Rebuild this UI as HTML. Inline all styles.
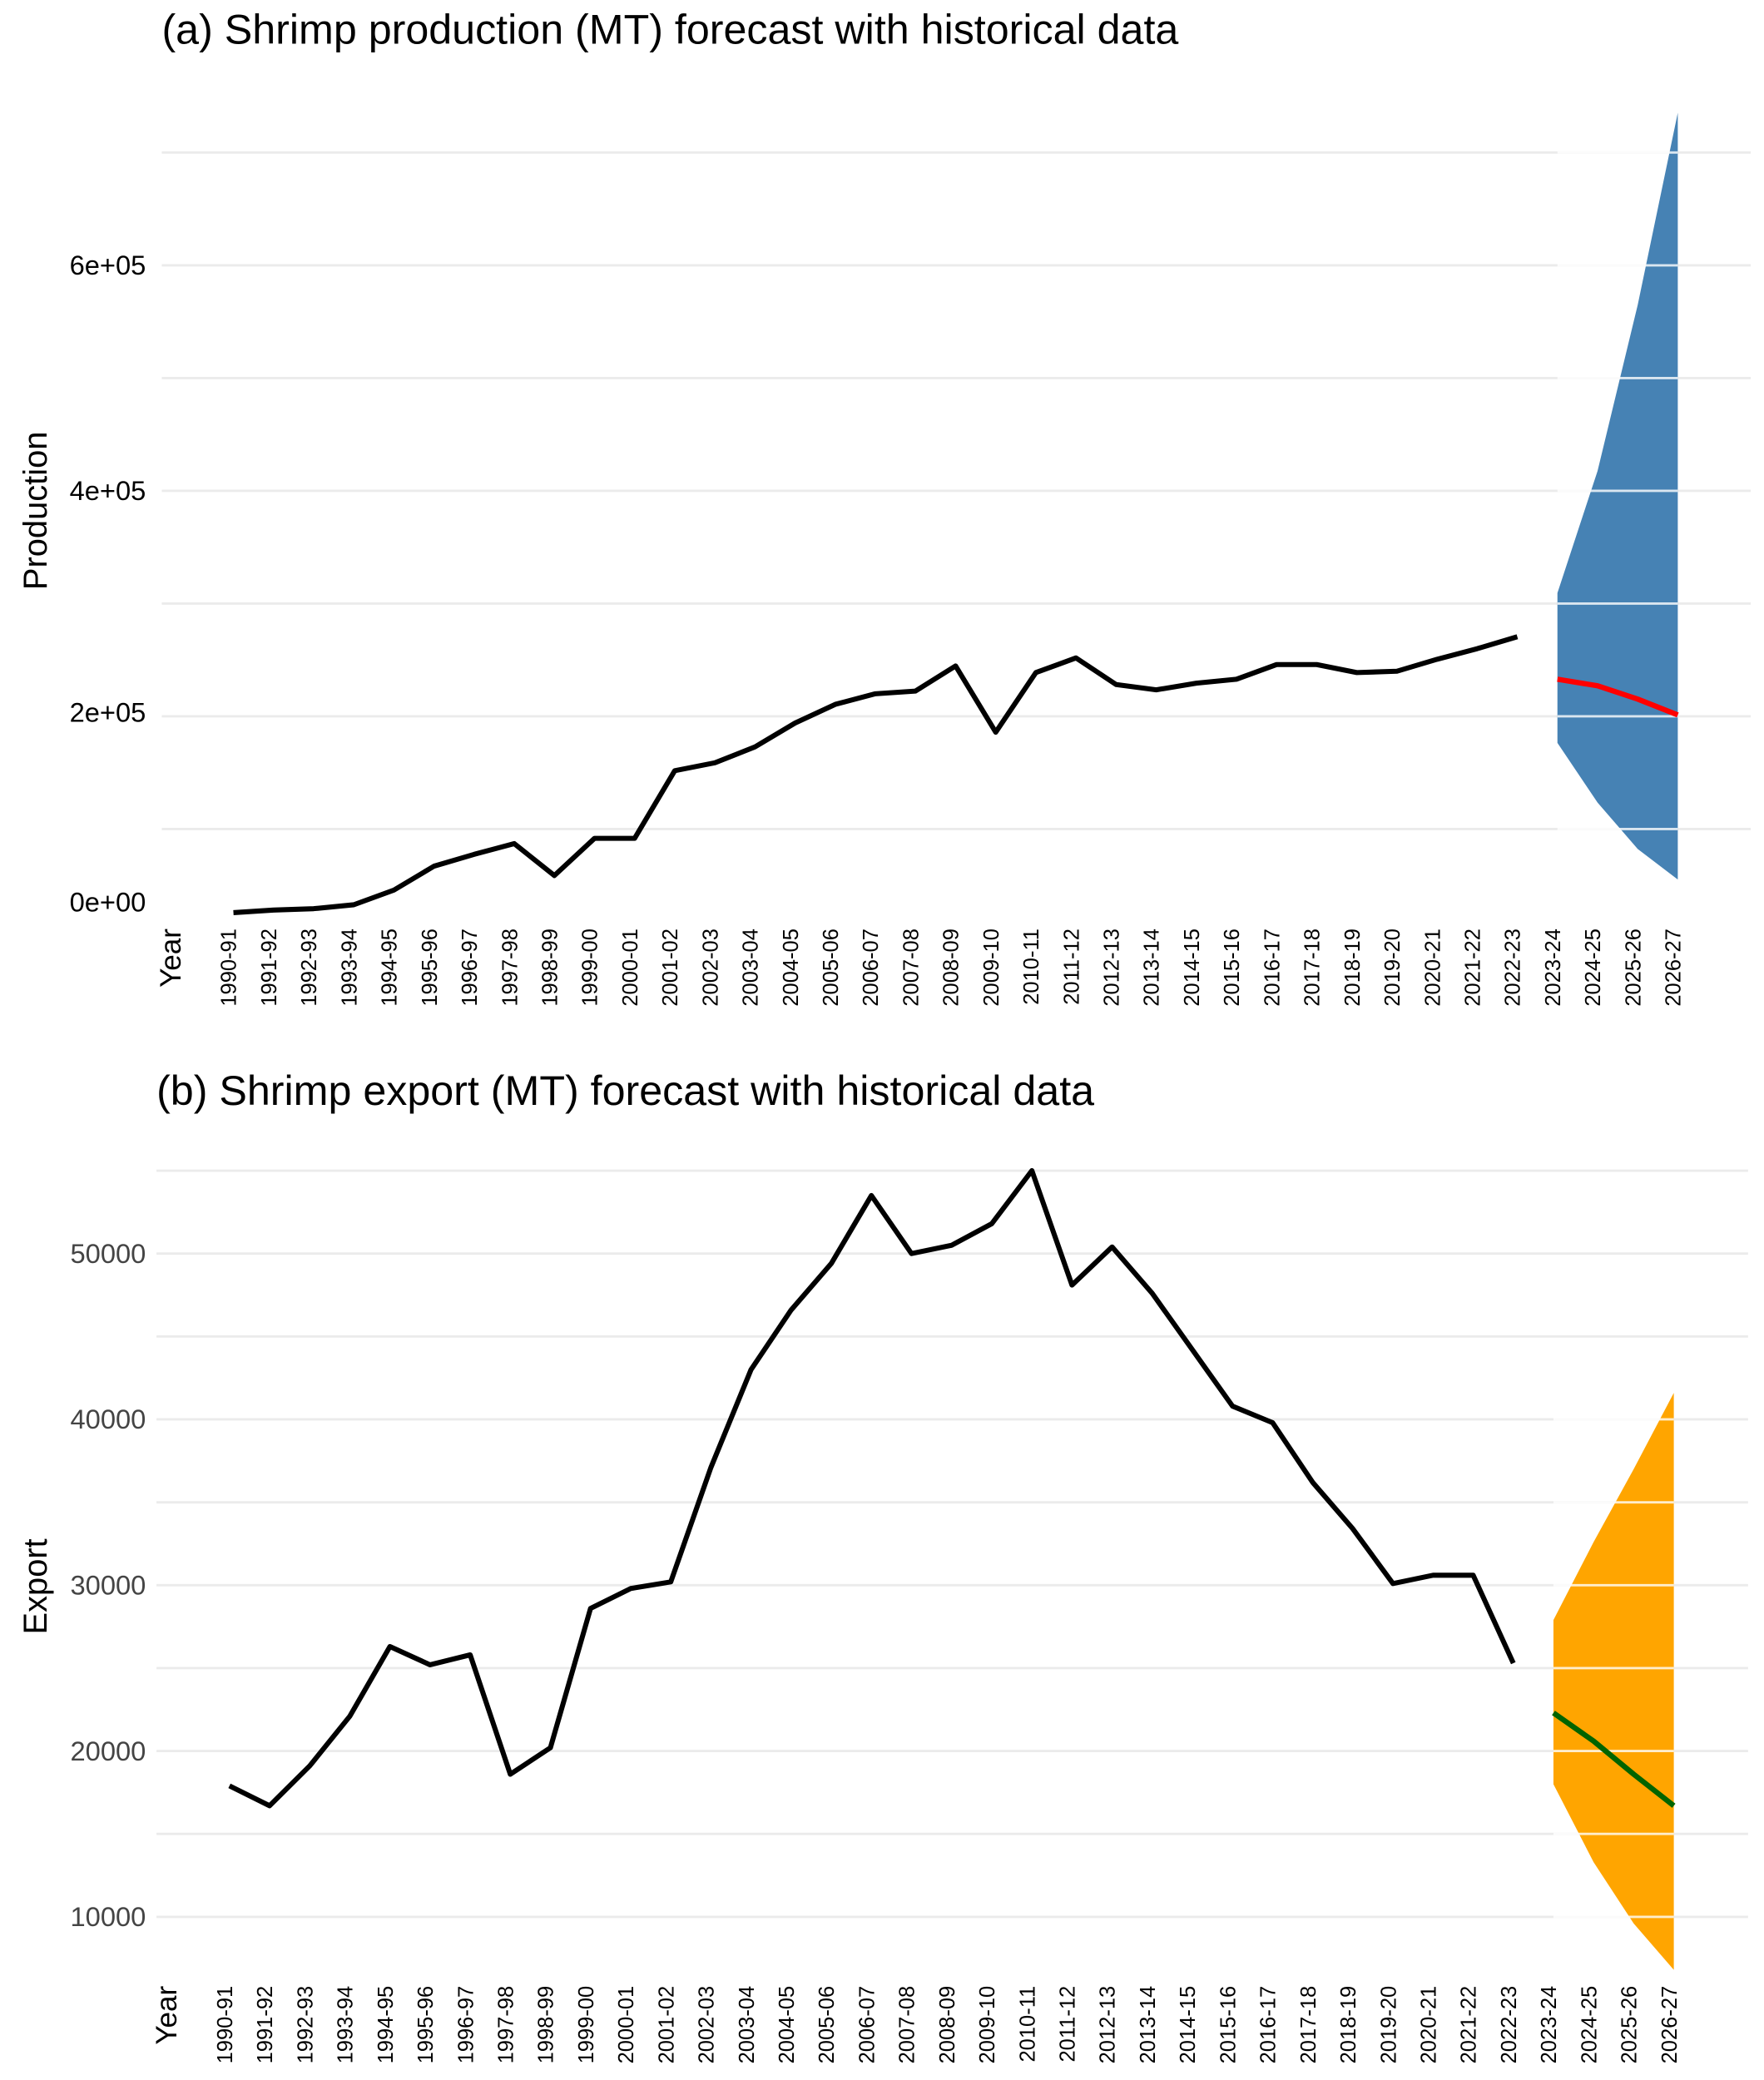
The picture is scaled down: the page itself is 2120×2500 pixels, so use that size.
<!DOCTYPE html>
<html><head><meta charset="utf-8"><style>
html,body{margin:0;padding:0;background:#fff;}
svg{display:block;font-family:"Liberation Sans",sans-serif;}
</style></head><body>
<svg id="chart" width="2120" height="2500" viewBox="0 0 1330 1568" preserveAspectRatio="none" xmlns="http://www.w3.org/2000/svg"></svg>
<script>
const years = ["1990-91","1991-92","1992-93","1993-94","1994-95","1995-96","1996-97","1997-98","1998-99","1999-00","2000-01","2001-02","2002-03","2003-04","2004-05","2005-06","2006-07","2007-08","2008-09","2009-10","2010-11","2011-12","2012-13","2013-14","2014-15","2015-16","2016-17","2017-18","2018-19","2019-20","2020-21","2021-22","2022-23","2023-24","2024-25","2025-26","2026-27"];
const prodHist = [25900,28200,29400,32900,45900,67100,77600,87100,58800,91800,91800,151800,158800,172900,194100,210600,220000,222400,244700,185900,238800,251800,228200,223500,229400,232900,245900,245900,238800,240000,250600,260000,270600];
const prodMean = [232900,227100,215300,201200];
const prodLower = [176500,123500,82400,55300];
const prodUpper = [309400,417600,564700,735300];
const prodTicks = [0,200000,400000,600000];
const prodTickLabels = ["0e+00","2e+05","4e+05","6e+05"];
const expHist = [17900,16700,19100,22100,26300,25200,25800,18600,20200,28600,29800,30200,37100,43000,46600,49400,53500,50000,50500,51800,55000,48100,50400,47600,44200,40800,39800,36200,33400,30100,30600,30600,25300];
const expMean = [22300,20600,18600,16700];
const expLower = [18000,13300,9600,6800];
const expUpper = [27900,32600,37000,41600];
const expTicks = [10000,20000,30000,40000,50000];
const expTickLabels = ["10000","20000","30000","40000","50000"];

const svg = document.getElementById('chart');
const NS = "http://www.w3.org/2000/svg";
function mk(tag, attrs, parent){const e=document.createElementNS(NS,tag);for(const k in attrs)e.setAttribute(k,attrs[k]);(parent||svg).appendChild(e);return e;}

function panel(cfg){
  const g = mk('g',{});
  
  
  const x = i => cfg.x0 + cfg.dx*i;
  const y = v => cfg.zeroY - v*cfg.scale;
  for(let v=cfg.gridStart; v<=cfg.gridEnd; v+=cfg.gridStep){
    const l = mk('line',{x1:cfg.gx0,x2:cfg.gx1,y1:y(v),y2:y(v),stroke:'#ebebeb','stroke-width':1.8},g);
    
    
  }
  const n = cfg.hist.length;
  let pts = cfg.upper.map((v,i)=>x(n+i)+','+y(v));
  pts = pts.concat(cfg.lower.map((v,i)=>x(n+i)+','+y(v)).reverse());
  const band = mk('polygon',{points:pts.join(' '),fill:cfg.bandColor},g);
  
  
  for(let v=cfg.gridStart; v<=cfg.gridEnd; v+=cfg.gridStep){
    const lo = Math.min(...cfg.lower), hi = Math.max(...cfg.upper);
    if(v>lo && v<hi){
      const l = mk('line',{x1:x(n),x2:x(n+3),y1:y(v),y2:y(v),stroke:'#fff','stroke-width':1.8,'stroke-opacity':0.8},g);
      
      
    }
  }
  const hl = mk('polyline',{points:cfg.hist.map((v,i)=>x(i)+','+y(v)).join(' '),fill:'none',stroke:'#000','stroke-width':3.8,'stroke-linejoin':'round'},g);
  
  
  const ml = mk('polyline',{points:cfg.mean.map((v,i)=>x(n+i)+','+y(v)).join(' '),fill:'none',stroke:cfg.meanColor,'stroke-width':4,'stroke-linejoin':'round'},g);
  
  
  cfg.ticks.forEach((v,i)=>{
    const t = mk('text',{x:110,y:y(v)+(cfg.tickShift?cfg.tickShift[i]:0)+7,'text-anchor':'end','font-size':20.5,fill:cfg.tickColor},g);
    t.textContent = cfg.tickLabels[i];
    
    
  });
  years.forEach((yr,i)=>{
    const t = mk('text',{transform:`translate(${x(i)+2},${cfg.labY}) rotate(-90)`,'text-anchor':'end','font-size':16,fill:'#000'},g);
    t.textContent = yr;
    
    
  });
  const yt = mk('text',{transform:`translate(${cfg.x0-40},${cfg.labY}) rotate(-90)`,'text-anchor':'end','font-size':22,fill:'#000'},g);
  yt.textContent='Year';
  
  
  const at = mk('text',{transform:`translate(35,${cfg.axisTitleY}) rotate(-90)`,'text-anchor':'middle','font-size':25,fill:'#000'},g);
  at.textContent=cfg.axisTitle;
  
  
  const tt = mk('text',{x:cfg.titleX,y:cfg.titleY,'font-size':31.5,fill:'#000'},g);
  tt.textContent=cfg.title;
  
  
}

panel({name:'production-panel',x0:176,dx:30.25,zeroY:710,scale:85/100000,gridStart:100000,gridEnd:700000,gridStep:100000,gx0:122,gx1:1320,
  hist:prodHist,mean:prodMean,lower:prodLower,upper:prodUpper,bandColor:'#4682b4',meanColor:'#ff0000',
  ticks:prodTicks,tickLabels:prodTickLabels,tickShift:[-30,-3,0,0],tickColor:'#000',labY:700,axisTitle:'Production',axisTitleY:385,
  title:'(a) Shrimp production (MT) forecast with historical data',titleX:122,titleY:33});
panel({name:'export-panel',x0:173,dx:30.25,zeroY:1570,scale:125/10000,gridStart:10000,gridEnd:55000,gridStep:5000,gx0:118,gx1:1318,
  hist:expHist,mean:expMean,lower:expLower,upper:expUpper,bandColor:'#ffa500',meanColor:'#006400',
  ticks:expTicks,tickLabels:expTickLabels,tickColor:'#444',labY:1497,axisTitle:'Export',axisTitleY:1196,
  title:'(b) Shrimp export (MT) forecast with historical data',titleX:118,titleY:833});
</script>
</body></html>
